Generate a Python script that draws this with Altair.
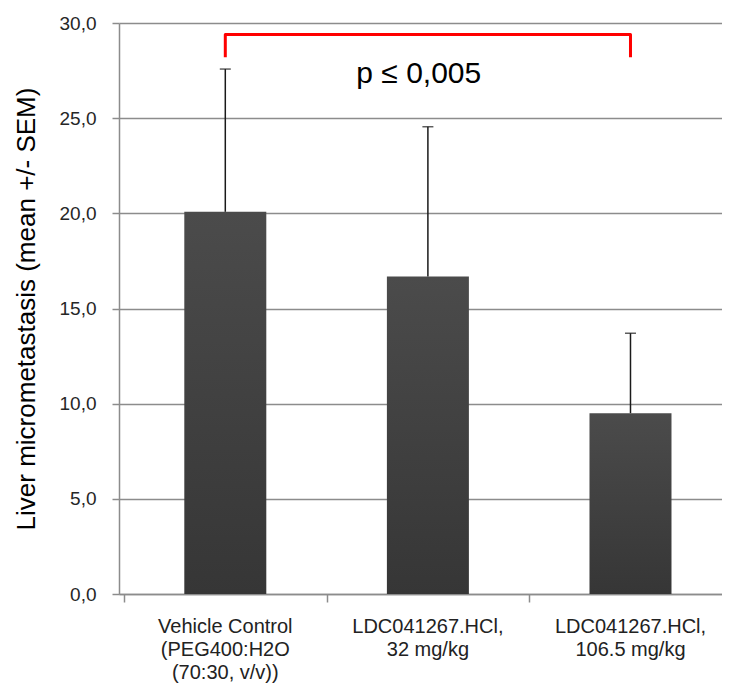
import altair as alt
import pandas as pd

# ---- data ----
group_labels = ["Vehicle Control|(PEG400:H2O|(70:30, v/v))",
                "LDC041267.HCl,|32 mg/kg",
                "LDC041267.HCl,|106.5 mg/kg"]
positions = [0, 1, 2]
means = [20.08, 16.68, 9.5]
sems = [7.5, 7.87, 4.2]
y_ticks = [0, 5, 10, 15, 20, 25, 30]
x_boundaries = [-0.5, 0.5, 1.5]
bracket_x = [0, 0, 2, 2]
bracket_y = [28.2, 29.4, 29.4, 28.2]
bracket_order = [0, 1, 2, 3]
p_label = ["p ≤ 0,005"]
p_x = [0.955]
p_y = [27.3]
y_title = "Liver micrometastasis (mean +/- SEM)"

FONT = "Liberation Sans"
W, H = 603, 571
GRID = "#8c8c8c"

df = pd.DataFrame({
    "pos": positions,
    "mean": means,
    "top": [m + s for m, s in zip(means, sems)],
    "label": group_labels,
})
bracket_df = pd.DataFrame({"bx": bracket_x, "by": bracket_y, "o": bracket_order})
p_df = pd.DataFrame({"px": p_x, "py": p_y, "t": p_label})

xs = alt.Scale(domain=[-0.5, 2.427], nice=False, zero=False)
ys = alt.Scale(domain=[0, 30], nice=False, zero=True)

x_axis = alt.Axis(values=x_boundaries, labels=False, ticks=True, tickSize=8,
                  tickColor=GRID, tickWidth=1.5, domainColor=GRID, domainWidth=1.5,
                  grid=False, title=None)
y_axis = alt.Axis(values=y_ticks,
                  labelExpr="replace(format(datum.value, '.1f'), '.', ',')",
                  labelFontSize=19, labelColor="#262626", labelPadding=16,
                  labelFont=FONT,
                  tickSize=7, tickColor=GRID, tickWidth=1.5,
                  domainColor=GRID, domainWidth=1.5,
                  grid=True, gridColor=GRID, gridWidth=1.5,
                  title=y_title, titleFontSize=26, titleFontWeight="normal",
                  titleColor="black", titleFont=FONT, titlePadding=20)


def X(field):
    return alt.X(field, type="quantitative", scale=xs, axis=x_axis)


def Y(field):
    return alt.Y(field, type="quantitative", scale=ys, axis=y_axis)


base = alt.Chart(df)

bars = base.mark_bar(
    size=82,
    color=alt.Gradient(
        gradient="linear",
        stops=[alt.GradientStop(color="#4b4b4b", offset=0),
               alt.GradientStop(color="#363636", offset=1)],
        x1=0, x2=0, y1=0, y2=1),
).encode(x=X("pos"), y=Y("mean"))

err = base.mark_rule(color="#1a1a1a", strokeWidth=1.5).encode(
    x=X("pos"), y=Y("mean"), y2="top:Q")

caps = base.mark_tick(orient="horizontal", size=11, thickness=1.5,
                      color="#1a1a1a").encode(x=X("pos"), y=Y("top"))

labels = base.mark_text(lineBreak="|", baseline="top", align="center",
                        fontSize=20, lineHeight=23, font=FONT,
                        color="#222222").encode(
    x=X("pos"), y=alt.value(H + 23), text="label:N")

bracket = alt.Chart(bracket_df).mark_line(
    color="#ff0000", strokeWidth=3, strokeJoin="round", strokeCap="butt"
).encode(x=X("bx"), y=Y("by"), order="o:O")

ptext = alt.Chart(p_df).mark_text(fontSize=30, font=FONT, color="black",
                                  baseline="middle", align="center").encode(
    x=X("px"), y=Y("py"), text="t:N")

chart = alt.layer(bars, err, caps, labels, bracket, ptext).properties(
    width=W, height=H,
    autosize=alt.AutoSizeParams(type="none"),
    padding={"left": 111, "top": 15, "right": 0, "bottom": 92},
    background="white",
).configure_view(strokeWidth=0)

chart.save("out.html", embed_options={"renderer": "svg", "actions": False})
